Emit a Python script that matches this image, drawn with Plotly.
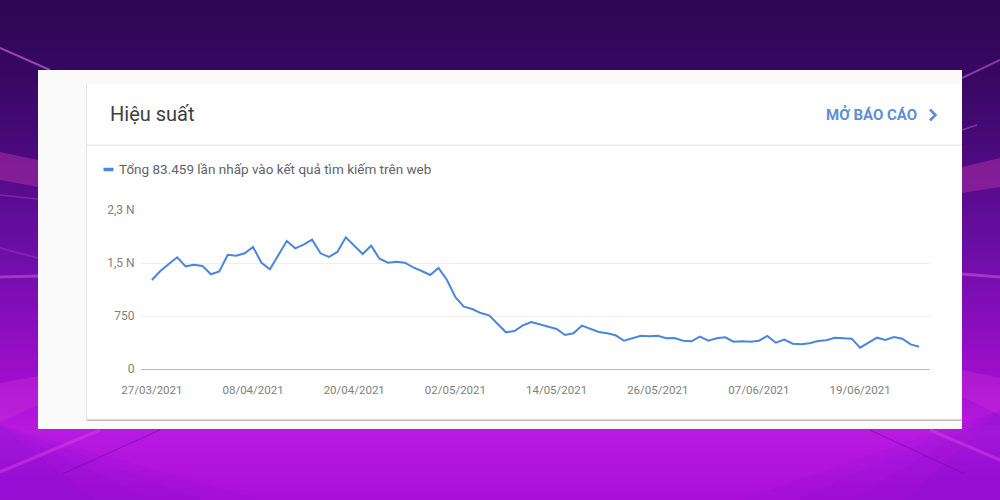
import pandas as pd
import plotly.graph_objects as go

start_date = "2021-03-27"
clicks = [1259,1387,1486,1581,1453,1476,1457,1340,1382,1617,1603,1637,1726,1504,1411,1609,
          1811,1708,1759,1830,1637,1585,1656,1864,1745,1627,1745,1561,1504,1518,1504,1439,
          1387,1330,1429,1259,1015,882,849,792,760,641,519,538,618,665,632,599,566,481,505,
          613,570,524,505,477,400,439,471,463,471,434,439,400,392,457,400,434,449,386,392,
          386,400,467,372,415,358,349,364,396,406,443,434,429,301,372,443,410,453,429,349,316]
y_ticks = [0, 750, 1500, 2250]
y_labels = ["0", "750", "1,5 N", "2,3 N"]
x_ticks = ["2021-03-27", "2021-04-08", "2021-04-20", "2021-05-02", "2021-05-14",
           "2021-05-26", "2021-06-07", "2021-06-19"]
title_text = "Hiệu suất"
link_text = "MỞ BÁO CÁO"
legend_text = "Tổng 83.459 lần nhấp vào kết quả tìm kiếm trên web"

dates = pd.date_range(start_date, periods=len(clicks), freq="D")
W, H = 1000, 500


def X(x):
    return x / W


def Y(y):
    return 1 - y / H


def poly(points, fill=None, line=None, width=0):
    path = "M " + " L ".join(f"{X(a):.4f} {Y(b):.4f}" for a, b in points)
    if fill:
        path += " Z"
    return dict(type="path", xref="paper", yref="paper", path=path, layer="below",
                fillcolor=fill if fill else "rgba(0,0,0,0)",
                line=dict(color=line if line else "rgba(0,0,0,0)", width=width))


def rect(x0, y0, x1, y1, color):
    return dict(type="rect", xref="paper", yref="paper", x0=X(x0), x1=X(x1), y0=Y(y0), y1=Y(y1),
                fillcolor=color, line=dict(width=0), layer="below")


stops = [(0, (46, 6, 86)), (70, (54, 8, 96)), (150, (74, 10, 125)), (250, (108, 14, 165)),
         (380, (160, 14, 205)), (430, (184, 26, 224)), (500, (170, 14, 218))]


def grad(y):
    for (a, ca), (b, cb) in zip(stops, stops[1:]):
        if a <= y <= b:
            t = (y - a) / (b - a)
            return tuple(round(p + (q - p) * t) for p, q in zip(ca, cb))
    return stops[-1][1]


shapes = []
for y in range(0, 500, 5):
    r, g, b = grad(y + 2.5)
    shapes.append(rect(0, y, 1000, y + 5.5, f"rgb({r},{g},{b})"))

# soft darkening toward the lower corners
for i, alpha in enumerate([0.07, 0.07, 0.07, 0.07]):
    reach = 260 - i * 55
    shapes.append(poly([(0, 425), (reach, 500), (0, 500)], fill=f"rgba(100,10,200,{alpha})"))
    shapes.append(poly([(1000, 410), (1000 - reach, 500), (1000, 500)], fill=f"rgba(100,10,200,{alpha})"))

shapes += [
    poly([(0, 152), (38, 160), (38, 187), (0, 180)], fill="rgba(190,50,170,0.45)"),
    poly([(962, 167), (1000, 158), (1000, 187), (962, 193)], fill="rgba(190,50,170,0.45)"),
    poly([(0, 383), (38, 376), (38, 405), (0, 422)], fill="rgba(205,50,215,0.35)"),
    poly([(962, 370), (1000, 378), (1000, 415), (962, 397)], fill="rgba(205,50,215,0.35)"),
    poly([(0, 48), (50, 70)], line="rgba(190,90,210,0.75)", width=2),
    poly([(962, 78), (1000, 60)], line="rgba(190,90,210,0.6)", width=2),
    poly([(962, 130), (977, 125)], line="rgba(190,90,210,0.5)", width=1.5),
    poly([(0, 195), (38, 199)], line="rgba(190,90,210,0.35)", width=1.5),
    poly([(0, 277), (38, 276)], line="rgba(215,110,225,0.45)", width=3),
    poly([(962, 274), (1000, 277)], line="rgba(215,110,225,0.45)", width=3),
    poly([(0, 248), (38, 258)], line="rgba(215,110,225,0.2)", width=2),
    poly([(0, 472), (100, 430)], line="rgba(220,70,225,0.45)", width=3),
    poly([(930, 430), (1000, 460)], line="rgba(220,70,225,0.45)", width=3),
    poly([(62, 474), (160, 430)], line="rgba(110,10,160,0.6)", width=1),
    poly([(870, 430), (965, 474)], line="rgba(110,10,160,0.6)", width=1),
    rect(38, 70, 962, 429, "#fafafa"),
    rect(86, 84, 962, 421, "#e4e4e4"),
    rect(87, 84, 962, 420, "#ffffff"),
    rect(87, 419.5, 962, 421, "#b9b9b9"),
    rect(87, 144.5, 962, 146, "#eeeeee"),
]
shapes.append(dict(type="line", xref="paper", yref="paper", x0=X(103.5), x1=X(113.5), y0=Y(169.5), y1=Y(169.5),
                   line=dict(color="#4a86dc", width=3.5), layer="above"))
shapes.append(poly([(930, 109.5), (935.5, 115), (930, 120.5)], line="#5b8fd9", width=2.6))


def label(x, y, text, size, color, family="Roboto"):
    return dict(xref="paper", yref="paper", x=X(x), y=Y(y), xanchor="left", yanchor="middle",
                text=text, showarrow=False, font=dict(family=family, size=size, color=color))


annotations = [
    label(108, 114.5, title_text, 20, "#3c4043"),
    label(824, 114.5, f"<b>{link_text}</b>", 15, "#5b8fd9"),
    label(117, 169, legend_text, 13.5, "#5f6368"),
]

fig = go.Figure(go.Scatter(x=dates, y=clicks, mode="lines",
                           line=dict(color="#4a86dc", width=2), hoverinfo="skip"))
fig.update_layout(
    width=W, height=H, autosize=False,
    margin=dict(l=0, r=0, t=0, b=0, pad=0, autoexpand=False),
    paper_bgcolor="#7a0eb0", plot_bgcolor="rgba(0,0,0,0)",
    showlegend=False, shapes=shapes, annotations=annotations,
    font=dict(family="Roboto", size=11.5, color="#808080"),
    xaxis=dict(domain=[X(141), X(930)], type="date",
               range=["2021-03-25 17:00", "2021-06-27 07:00"],
               tickmode="array", tickvals=x_ticks, tickformat="%d/%m/%Y",
               showgrid=False, zeroline=False, showline=False,
               ticks="outside", ticklen=10, tickcolor="rgba(0,0,0,0)",
               tickfont=dict(family="Roboto", size=11.5, color="#808080")),
    yaxis=dict(domain=[Y(369), Y(210)], range=[0, 2250],
               tickmode="array", tickvals=y_ticks, ticktext=y_labels,
               showgrid=True, gridcolor="#eeeeee", gridwidth=1,
               zeroline=True, zerolinecolor="#b8b8b8", zerolinewidth=1.2,
               showline=False, ticks="outside", ticklen=3, tickcolor="rgba(0,0,0,0)",
               tickfont=dict(family="Roboto", size=12, color="#808080")),
)
fig.write_html("out.html", config={"displayModeBar": False},
               post_script="document.body.style.margin='0';document.documentElement.style.overflow='hidden';")
